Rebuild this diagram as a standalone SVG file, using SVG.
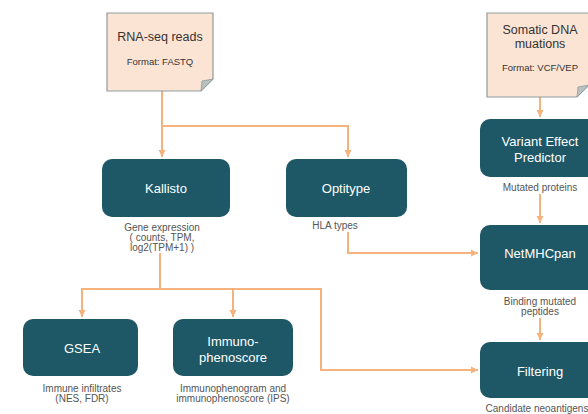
<svg xmlns="http://www.w3.org/2000/svg" width="588" height="414" viewBox="0 0 588 414">
<style>
.box{fill:#1e5867;}
.bt{fill:#ffffff;font-family:"Liberation Sans",Arial,sans-serif;font-size:13px;text-anchor:middle;}
.lb{fill:#555555;font-family:"Liberation Sans",Arial,sans-serif;font-size:10px;text-anchor:middle;}
.lbr{fill:#555555;font-family:"Liberation Sans",Arial,sans-serif;font-size:10px;text-anchor:middle;}
.doc{fill:#fce4d4;stroke:#8e9c9e;stroke-width:1.2;}
.fold{fill:#b9c0c0;stroke:#8e9c9e;stroke-width:0.8;}
.dt{fill:#333333;font-family:"Liberation Sans",Arial,sans-serif;text-anchor:middle;}
.cn{fill:none;stroke:#f6b27c;stroke-width:2;}
</style>
<defs>
<marker id="ah" markerUnits="userSpaceOnUse" markerWidth="8" markerHeight="8" refX="7" refY="4" orient="auto">
<path d="M0,0.5 L7,4 L0,7.5 z" fill="#f6b27c"/>
</marker>
</defs>
<g id="connectors">
<path class="cn" d="M162,91 V126 H348 V157" marker-end="url(#ah)"/>
<path class="cn" d="M162,126 V157" marker-end="url(#ah)"/>
<path class="cn" d="M348,232 V253 H478" marker-end="url(#ah)"/>
<path class="cn" d="M160,253 V289 H82 V317" marker-end="url(#ah)"/>
<path class="cn" d="M160,289 H233 V317" marker-end="url(#ah)"/>
<path class="cn" d="M233,289 H321 V370 H478" marker-end="url(#ah)"/>
<path class="cn" d="M540,97 V117" marker-end="url(#ah)"/>
<path class="cn" d="M540,194 V223" marker-end="url(#ah)"/>
<path class="cn" d="M540,318 V340" marker-end="url(#ah)"/>
</g>
<g id="rnaseq">
<path class="doc" d="M107,13 H213 V79 L201,91 H107 Z"/>
<path class="fold" d="M213,79 L202,81 L201,91 Z"/>
<text class="dt" x="160" y="41" font-size="12.5">RNA-seq reads</text>
<text class="dt" x="160" y="65" font-size="9.5">Format: FASTQ</text>
</g>
<g id="somatic">
<path class="doc" d="M487,13 H589 V85 L577,97 H487 Z"/>
<path class="fold" d="M589,85 L578,87 L577,97 Z"/>
<text class="dt" x="540" y="34" font-size="12.5">Somatic DNA</text>
<text class="dt" x="540" y="48" font-size="12.5">muations</text>
<text class="dt" x="540" y="71" font-size="9.5">Format: VCF/VEP</text>
</g>
<g id="kallisto">
<rect class="box" x="102" y="159" width="128" height="58" rx="10"/>
<text class="bt" x="166" y="193">Kallisto</text>
<text class="lb" x="162" y="231">Gene expression</text>
<text class="lb" x="162" y="241">( counts, TPM,</text>
<text class="lb" x="162" y="251">log2(TPM+1) )</text>
</g>
<g id="optitype">
<rect class="box" x="286" y="159" width="121" height="58" rx="10"/>
<text class="bt" x="346" y="193">Optitype</text>
<text class="lb" x="335" y="229">HLA types</text>
</g>
<g id="vep">
<rect class="box" x="480" y="119" width="122" height="58" rx="10"/>
<text class="bt" x="540" y="146">Variant Effect</text>
<text class="bt" x="540" y="162">Predictor</text>
<text class="lbr" x="540" y="191">Mutated proteins</text>
</g>
<g id="netmhcpan">
<rect class="box" x="480" y="225" width="122" height="65" rx="10"/>
<text class="bt" x="540" y="258">NetMHCpan</text>
<text class="lbr" x="540" y="305">Binding mutated</text>
<text class="lbr" x="540" y="315">peptides</text>
</g>
<g id="filtering">
<rect class="box" x="480" y="342" width="122" height="56" rx="10"/>
<text class="bt" x="540" y="376">Filtering</text>
<text class="lbr" x="537" y="412" font-size="9.8">Candidate neoantigens</text>
</g>
<g id="gsea">
<rect class="box" x="23" y="319" width="115" height="57" rx="10"/>
<text class="bt" x="82" y="353">GSEA</text>
<text class="lb" x="82" y="392">Immune infiltrates</text>
<text class="lb" x="82" y="402">(NES, FDR)</text>
</g>
<g id="ips">
<rect class="box" x="173" y="319" width="120" height="57" rx="10"/>
<text class="bt" x="233" y="346">Immuno-</text>
<text class="bt" x="233" y="362">phenoscore</text>
<text class="lb" x="233" y="392">Immunophenogram and</text>
<text class="lb" x="233" y="402">immunophenoscore (IPS)</text>
</g>
</svg>
